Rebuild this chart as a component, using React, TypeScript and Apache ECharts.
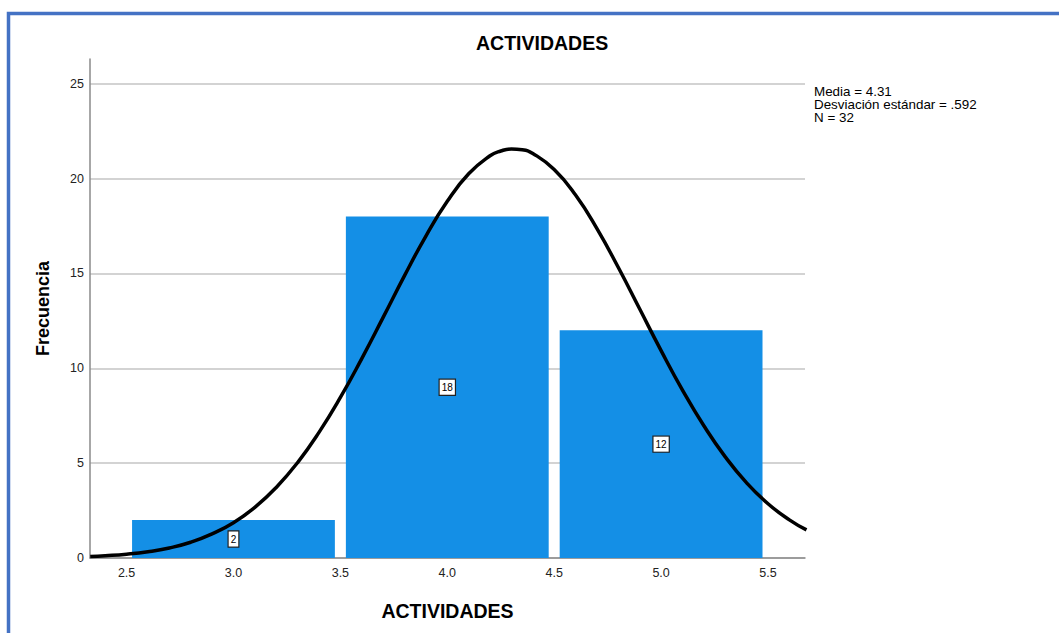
import React, { useEffect, useRef } from "react";
import * as echarts from "echarts";

const binStarts = [2.5, 3.5, 4.5];
const binEnds = [3.5, 4.5, 5.5];
const frequencies = [2, 18, 12];
const xTickLabels = [2.5, 3.0, 3.5, 4.0, 4.5, 5.0, 5.5];
const curveX = [2.33, 2.4, 2.5, 2.6, 2.7, 2.8, 2.9, 3.0, 3.1, 3.2, 3.3, 3.4, 3.5, 3.6, 3.7, 3.8, 3.9, 4.0, 4.1, 4.2, 4.25, 4.3, 4.35, 4.4, 4.5, 4.6, 4.7, 4.8, 4.9, 5.0, 5.1, 5.2, 5.3, 5.4, 5.5, 5.6, 5.68];
const curveY = [0.08, 0.12, 0.2, 0.33, 0.53, 0.83, 1.27, 1.86, 2.67, 3.72, 5.03, 6.62, 8.46, 10.51, 12.68, 14.88, 16.97, 18.8, 20.25, 21.2, 21.45, 21.56, 21.52, 21.32, 20.48, 19.13, 17.36, 15.31, 13.12, 10.93, 8.85, 6.97, 5.33, 3.96, 2.86, 2.01, 1.48];
const statsLines = ["Media = 4.31", "Desviación estándar = .592", "N = 32"];

const FONT = "'Liberation Sans', Arial, sans-serif";

export default function App() {
  const ref = useRef<HTMLDivElement>(null);
  useEffect(() => {
    if (!ref.current) return;
    const chart = echarts.init(ref.current, null, { renderer: "svg" });
    const barData = binStarts.map((s, i) => [s, binEnds[i], frequencies[i]]);
    const curveData = curveX.map((x, i) => [x, curveY[i]]);
    chart.setOption({
      animation: false,
      textStyle: { fontFamily: FONT },
      title: {
        text: "ACTIVIDADES",
        left: 471,
        top: 28,
        textStyle: { fontFamily: FONT, fontSize: 19.5, fontWeight: "bold", color: "#000" },
      },
      grid: { left: 90, right: 254, top: 59, bottom: 75, containLabel: false },
      xAxis: {
        type: "value",
        min: 2.329,
        max: 5.673,
        name: "ACTIVIDADES",
        nameLocation: "middle",
        nameGap: 43,
        nameTextStyle: { fontFamily: FONT, fontSize: 19.5, fontWeight: "bold", color: "#000" },
        axisLine: { show: true, lineStyle: { color: "#8a8a8a", width: 1.5 } },
        axisTick: { show: false },
        splitLine: { show: false },
        axisLabel: {
          customValues: xTickLabels,
          formatter: (v: number) => v.toFixed(1),
          fontSize: 12.5,
          color: "#222",
          margin: 8,
          fontFamily: FONT,
        },
      },
      yAxis: {
        type: "value",
        min: 0,
        max: 26.3,
        interval: 5,
        name: "Frecuencia",
        nameLocation: "middle",
        nameGap: 38,
        nameRotate: 90,
        nameTextStyle: { fontFamily: FONT, fontSize: 18, fontWeight: "bold", color: "#000" },
        axisLine: { show: true, lineStyle: { color: "#8a8a8a", width: 1.5 } },
        axisTick: { show: false },
        splitLine: { show: true, showMaxLine: false, lineStyle: { color: "#d3d3d3", width: 2 } },
        axisLabel: {
          showMaxLabel: false,
          formatter: (v: number) => (v % 5 === 0 ? String(v) : ""),
          fontSize: 12.5,
          color: "#222",
          margin: 6,
          fontFamily: FONT,
        },
      },
      series: [
        {
          type: "custom",
          z: 2,
          data: barData,
          encode: { x: [0, 1], y: 2 },
          renderItem: (params: any, api: any) => {
            const s = api.value(0);
            const e = api.value(1);
            const f = api.value(2);
            const p0 = api.coord([s, 0]);
            const p1 = api.coord([e, f]);
            const inset = 5.5;
            const mid = api.coord([(s + e) / 2, f / 2]);
            return {
              type: "group",
              children: [
                {
                  type: "rect",
                  shape: { x: p0[0] + inset, y: p1[1], width: p1[0] - p0[0] - 2 * inset, height: p0[1] - p1[1] },
                  style: { fill: "#148fe6" },
                },
                {
                  type: "text",
                  z2: 10,
                  x: mid[0],
                  y: mid[1],
                  style: {
                    text: String(f),
                    fontFamily: FONT,
                    fontSize: 10,
                    fill: "#000",
                    align: "center",
                    verticalAlign: "middle",
                    backgroundColor: "#fff",
                    borderColor: "#222",
                    borderWidth: 1.2,
                    padding: [3, 2, 2, 2],
                  },
                },
              ],
            };
          },
        },
        {
          type: "line",
          z: 5,
          data: curveData,
          smooth: 0.5,
          showSymbol: false,
          symbol: "none",
          lineStyle: { color: "#000", width: 3.5 },
        },
      ],
      graphic: [
        {
          type: "rect",
          shape: { x: 8.5, y: 13.5, width: 1200, height: 800 },
          style: { fill: "none", stroke: "#4472c4", lineWidth: 3.5 },
          silent: true,
        },
        {
          type: "text",
          x: 814,
          y: 85,
          style: {
            text: statsLines.join("\n"),
            fontFamily: FONT,
            fontSize: 13.4,
            lineHeight: 13,
            fill: "#000",
          },
        },
      ],
    });
    return () => chart.dispose();
  }, []);
  return (
    <div
      ref={ref}
      style={{ position: "fixed", left: 0, top: 0, width: 1059, height: 633, background: "#fff" }}
    />
  );
}
